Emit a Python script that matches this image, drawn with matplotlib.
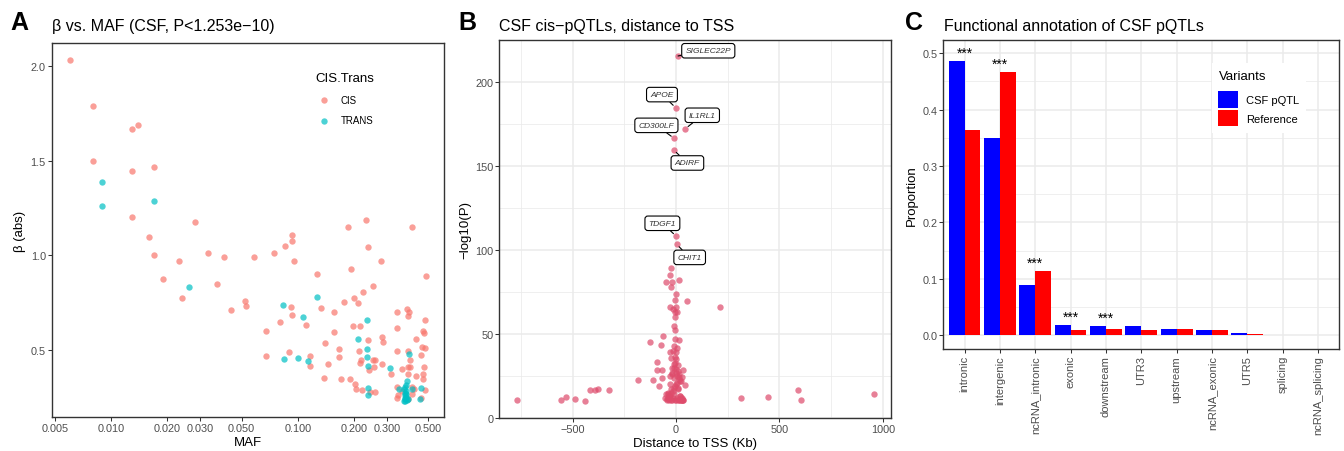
import numpy as np
import matplotlib
matplotlib.use('Agg')
import matplotlib.pyplot as plt
from matplotlib.ticker import NullLocator

plt.rcParams['font.family'] = ['Liberation Sans', 'DejaVu Sans']

# =========================================================
# PANEL A - beta vs MAF
# =========================================================
cis_maf = [0.006, 0.008, 0.008, 0.013, 0.014, 0.013, 0.017, 0.013, 0.016, 0.017,
           0.0281, 0.019, 0.0231, 0.024, 0.0331, 0.037, 0.0402, 0.044, 0.0523, 0.0531,
           0.0584, 0.0679, 0.0679, 0.0744, 0.0801, 0.0852, 0.0936, 0.0936, 0.0952, 0.0921,
           0.093, 0.0895, 0.1112, 0.1164, 0.1164, 0.1264, 0.1328, 0.1383, 0.1405, 0.1448,
           0.1565, 0.157, 0.167, 0.167, 0.1712, 0.1763, 0.186, 0.193, 0.190, 0.1986,
           0.201, 0.2095, 0.203, 0.204, 0.213, 0.2165, 0.216, 0.219, 0.223, 0.221,
           0.232, 0.237, 0.238, 0.240, 0.245, 0.253, 0.252, 0.256, 0.260, 0.258,
           0.279, 0.283, 0.288, 0.282, 0.318, 0.339, 0.341, 0.339, 0.339, 0.339,
           0.362, 0.385, 0.394, 0.389, 0.410, 0.388, 0.392, 0.400, 0.390, 0.400,
           0.432, 0.430, 0.461, 0.460, 0.469, 0.475, 0.480, 0.489, 0.480, 0.475,
           0.470, 0.470, 0.480, 0.460, 0.410, 0.410, 0.390, 0.420, 0.345, 0.360]
cis_beta = [2.03, 1.79, 1.50, 1.666, 1.69, 1.444, 1.467, 1.204, 1.095, 1.003,
            1.176, 0.874, 0.971, 0.772, 1.010, 0.848, 0.992, 0.712, 0.759, 0.731,
            0.992, 0.601, 0.468, 1.013, 0.645, 1.050, 1.105, 1.077, 0.968, 0.728,
            0.682, 0.486, 0.631, 0.468, 0.412, 0.899, 0.721, 0.350, 0.535, 0.424,
            0.701, 0.594, 0.502, 0.461, 0.345, 0.752, 1.149, 0.927, 0.345, 0.627,
            0.775, 0.745, 0.319, 0.292, 0.495, 0.627, 0.430, 0.445, 0.805, 0.287,
            1.188, 1.044, 0.553, 0.394, 0.278, 0.839, 0.445, 0.407, 0.447, 0.278,
            0.968, 0.567, 0.539, 0.424, 0.371, 0.701, 0.616, 0.491, 0.301, 0.246,
            0.398, 0.715, 0.701, 0.678, 1.149, 0.491, 0.407, 0.408, 0.370, 0.445,
            0.555, 0.362, 0.516, 0.470, 0.601, 0.588, 0.655, 0.890, 0.507, 0.408,
            0.371, 0.345, 0.288, 0.243, 0.301, 0.266, 0.239, 0.292, 0.260, 0.280]

trans_maf = [0.009, 0.009, 0.017, 0.0261, 0.0834, 0.084, 0.1004, 0.107, 0.113, 0.127,
             0.2095, 0.236, 0.236, 0.236, 0.238, 0.237, 0.237, 0.312, 0.395, 0.387,
             0.347, 0.460, 0.390, 0.410, 0.450,
             0.372, 0.375, 0.378, 0.374, 0.376, 0.380, 0.373, 0.377, 0.379, 0.375,
             0.374, 0.378, 0.383]
trans_beta = [1.387, 1.262, 1.285, 0.832, 0.736, 0.452, 0.458, 0.673, 0.438, 0.780,
              0.557, 0.657, 0.504, 0.460, 0.414, 0.297, 0.262, 0.403, 0.479, 0.333,
              0.292, 0.296, 0.240, 0.290, 0.240,
              0.230, 0.240, 0.250, 0.260, 0.270, 0.280, 0.290, 0.300, 0.315, 0.228,
              0.245, 0.265, 0.235]

# =========================================================
# PANEL B - distance to TSS
# =========================================================
tss_dist = [-771, -555, -534, -487, -440, -415, -391, -377, -326, -185,
            -127, -113, -94, -80, -73, -62, -68, -90, -69, -48,
            -29, -23, -18, -23, 13, 0, -3, 53, 214, -29,
            -16, 0, -6, 5, -5, -10, -3, -3, 13, -10,
            3, -13, 2, -27, -23, -3, 10, 35, 43, 31,
            16, 316, 445, 590, 603, 957,
            -45, -40, -35, -30, -25, -20, -15, -10, -5, 0,
            5, 10, 15, 20, 25, 30, -38, -32, -22, -12,
            -2, 8, 18, 28, -28, -18, -8, 2, 12, 22,
            -20, -10, 0, 10, -5, 5, -15, 15, -35, 35,
            -40, -30, -20, -10, 0, 10, 20, -25, -6, 6,
            -55, -50, -45, 20, 25, 30, 35]
tss_logp = [10.7, 10.9, 12.7, 11.1, 10.3, 16.7, 16.7, 17.3, 16.7, 22.8,
            45.2, 22.8, 33.5, 18.8, 43.6, 48.6, 23.8, 28.6, 28.6, 80.7,
            85.1, 77.8, 80.7, 89.5, 82.1, 74.0, 70.2, 69.8, 66.1, 66.3,
            64.9, 66.3, 62.9, 63.1, 59.9, 54.6, 52.4, 47.0, 46.4, 43.0,
            41.7, 39.7, 39.5, 39.1, 35.7, 36.1, 31.5, 28.6, 19.6, 24.6,
            24.2, 11.9, 12.3, 16.9, 10.7, 14.3,
            11.0, 12.0, 10.5, 13.0, 11.0, 10.5, 12.0, 14.0, 11.0, 10.5,
            12.0, 11.0, 10.5, 11.0, 10.5, 10.5, 14.0, 13.0, 15.0, 18.0,
            20.0, 17.0, 22.0, 12.0, 25.0, 27.0, 24.0, 29.0, 26.0, 22.0,
            30.0, 32.0, 35.0, 28.0, 19.0, 21.0, 16.0, 23.0, 13.0, 10.5,
            15.0, 20.0, 26.0, 30.0, 27.0, 18.0, 13.0, 17.0, 33.0, 25.0,
            12.0, 14.0, 11.5, 13.0, 12.0, 11.0, 10.5]

gene_names = ['SIGLEC22P', 'APOE', 'IL1RL1', 'CD300LF', 'ADIRF', 'TDGF1', 'CHIT1']
gene_dist = [9.7, -1.6, 45.2, -9.7, -11.0, 0.0, 3.0]
gene_logp = [215.5, 184.7, 172.2, 166.5, 159.5, 108.3, 103.4]
label_dist = [156, -68, 127, -95, 55, -66, 66]
label_logp = [218.6, 192.5, 180.2, 174.2, 151.8, 115.9, 95.6]

# =========================================================
# PANEL C - functional annotation
# =========================================================
annot_cats = ['intronic', 'intergenic', 'ncRNA_intronic', 'exonic', 'downstream', 'UTR3',
              'upstream', 'ncRNA_exonic', 'UTR5', 'splicing', 'ncRNA_splicing']
csf_prop = [0.486, 0.350, 0.0897, 0.0183, 0.0172, 0.0167, 0.0118, 0.010, 0.0047, 0.0004, 0.0003]
ref_prop = [0.3635, 0.4667, 0.114, 0.010, 0.0113, 0.010, 0.0118, 0.010, 0.003, 0.0013, 0.0012]
signif = ['***', '***', '***', '***', '***', '', '', '', '', '', '']

GREY20 = '#333333'
GREY30 = '#4D4D4D'
GRID = '#EBEBEB'
W, H = 1344, 452


def rect(l, t, r, b):
    return [l / W, 1 - b / H, (r - l) / W, (b - t) / H]


def style_axes(ax):
    for s in ax.spines.values():
        s.set_color(GREY20)
        s.set_linewidth(1.0)
    ax.tick_params(direction='out', length=2.75, width=0.75, color=GREY20,
                   labelcolor=GREY30, labelsize=7.8, pad=1.5)


fig = plt.figure(figsize=(13.44, 4.52), dpi=100)

# ---------------- A ----------------
axA = fig.add_axes(rect(51.7, 44.3, 444.3, 418.3))
axA.scatter(cis_maf, cis_beta, s=21, color='#F8766D', alpha=0.7, lw=0, label='CIS')
axA.scatter(trans_maf, trans_beta, s=21, color='#00BFC4', alpha=0.7, lw=0, label='TRANS')
axA.set_xscale('log')
axA.set_xlim(0.00481, 0.61)
axA.set_ylim(0.142, 2.121)
xt = [0.005, 0.01, 0.02, 0.03, 0.05, 0.1, 0.2, 0.3, 0.5]
axA.set_xticks(xt)
axA.set_xticklabels(['%.3f' % v for v in xt])
axA.xaxis.set_minor_locator(NullLocator())
axA.set_yticks([0.5, 1.0, 1.5, 2.0])
axA.set_yticklabels(['0.5', '1.0', '1.5', '2.0'])
style_axes(axA)
axA.set_xlabel('MAF', fontsize=9.5, labelpad=2)
axA.set_ylabel('β (abs)', fontsize=9.5, labelpad=3)
legA = axA.legend(title='CIS.Trans', loc='upper left', bbox_to_anchor=(0.671, 0.923),
                  frameon=False, fontsize=7, title_fontsize=9.5, handlelength=1.78,
                  handletextpad=0.88, labelspacing=1.1, borderpad=0, borderaxespad=0,
                  alignment='left')

# ---------------- B ----------------
axB = fig.add_axes(rect(499.3, 41, 891, 419))
axB.set_axisbelow(True)
axB.scatter(tss_dist, tss_logp, s=21, color='#DE4B6B', alpha=0.7, lw=0)
axB.scatter(gene_dist, gene_logp, s=21, color='#DE4B6B', alpha=0.7, lw=0)
for g, px, py, lx, ly in zip(gene_names, gene_dist, gene_logp, label_dist, label_logp):
    axB.annotate(g, xy=(px, py), xytext=(lx, ly), fontsize=6, style='italic',
                 color=GREY20, ha='center', va='center',
                 bbox=dict(boxstyle='round,pad=0.45,rounding_size=0.35', fc='white',
                           ec='black', lw=0.8),
                 arrowprops=dict(arrowstyle='-', color='black', lw=0.8,
                                 shrinkA=0, shrinkB=2.5))
axB.set_xlim(-855, 1040)
axB.set_ylim(0, 225)
axB.set_xticks([-500, 0, 500, 1000])
axB.set_xticks([-750, -250, 250, 750], minor=True)
axB.set_yticks([0, 50, 100, 150, 200])
axB.set_yticks([25, 75, 125, 175], minor=True)
axB.grid(which='major', color=GRID, lw=1.1)
axB.grid(which='minor', color=GRID, lw=0.55)
style_axes(axB)
axB.tick_params(which='minor', length=0)
axB.set_xlabel('Distance to TSS (Kb)', fontsize=9.5, labelpad=2)
axB.set_ylabel('−log10(P)', fontsize=9.5, labelpad=3)

# ---------------- C ----------------
axC = fig.add_axes(rect(943.3, 40.7, 1339.3, 350))
axC.set_axisbelow(True)
xpos = np.arange(len(annot_cats))
axC.bar(xpos - 0.225, csf_prop, width=0.45, color='#0000FF', label='CSF pQTL')
axC.bar(xpos + 0.225, ref_prop, width=0.45, color='#FF0000', label='Reference')
for i, lab in enumerate(signif):
    if lab:
        axC.text(xpos[i], max(csf_prop[i], ref_prop[i]) + 0.014, lab, ha='center',
                 va='center', fontsize=10, color='black')
axC.set_xlim(-0.6, len(annot_cats) - 0.4)
axC.set_ylim(-0.0243, 0.524)
axC.set_xticks(xpos)
axC.set_xticklabels(annot_cats, rotation=90)
axC.set_yticks([0, 0.1, 0.2, 0.3, 0.4, 0.5])
axC.set_yticklabels(['0.0', '0.1', '0.2', '0.3', '0.4', '0.5'])
axC.set_yticks([0.05, 0.15, 0.25, 0.35, 0.45], minor=True)
axC.grid(which='major', color=GRID, lw=1.1)
axC.grid(which='minor', axis='y', color=GRID, lw=0.55)
style_axes(axC)
axC.tick_params(which='minor', length=0)
axC.tick_params(axis='x', labelsize=8)
axC.set_ylabel('Proportion', fontsize=9.5, labelpad=3)
legC = axC.legend(title='Variants', loc='upper left', bbox_to_anchor=(0.678, 0.925),
                  frameon=True, fancybox=False, facecolor='white', edgecolor='none',
                  framealpha=1, fontsize=8, title_fontsize=9.5, handlelength=1.8,
                  handleheight=1.9, handletextpad=0.7, labelspacing=0.2,
                  borderpad=0.6, borderaxespad=0, alignment='left')
legC._legend_box.sep = 7  # extra gap between title and keys, like ggplot

# ---------------- titles & panel letters ----------------
titles = [(51.7, 'β vs. MAF (CSF, P<1.253e−10)'),
          (499.3, 'CSF cis−pQTLs, distance to TSS'),
          (944.0, 'Functional annotation of CSF pQTLs')]
for x, t in titles:
    fig.text(x / W, 1 - 30.5 / H, t, fontsize=11.5, va='baseline', ha='left')
for x, L in [(10, 'A'), (458, 'B'), (905, 'C')]:
    fig.text(x / W, 1 - 29.5 / H, L, fontsize=18, fontweight='bold', va='baseline', ha='left')

fig.savefig('out.png', dpi=100)
